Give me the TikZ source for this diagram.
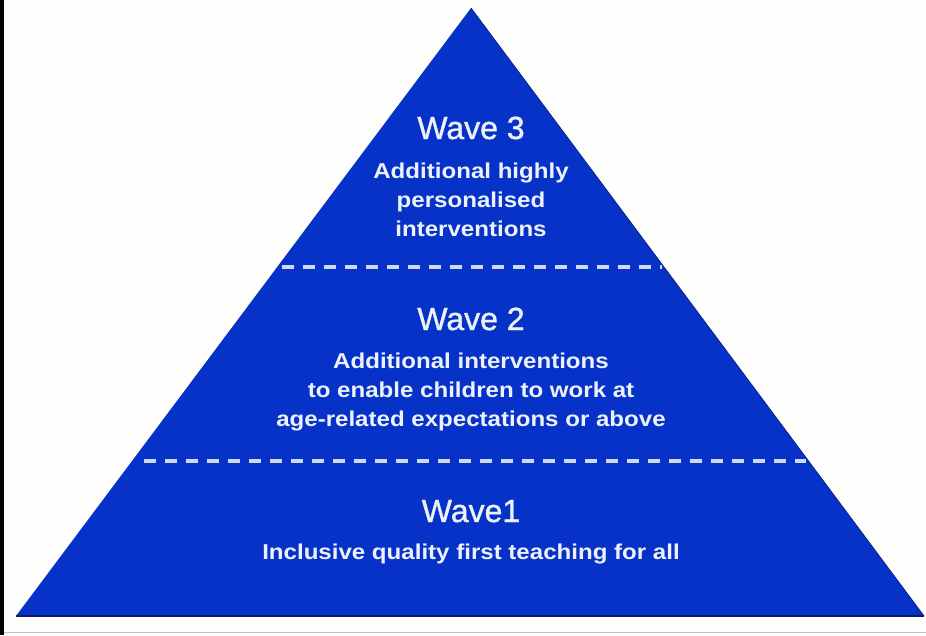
\documentclass[tikz,border=0pt]{standalone}
\usepackage{fontspec}
\setmainfont{Liberation Sans}
\newfontfamily\bodyfont{Liberation Sans}[FakeStretch=1.12]
\newfontfamily\headfont{Liberation Sans}[UprightFeatures={FakeBold=1.2}]
\definecolor{pyrblue}{RGB}{6,50,200}
\definecolor{pyrdark}{RGB}{10,25,110}
\definecolor{txtcol}{RGB}{236,241,250}
\definecolor{dashcol}{RGB}{205,218,242}
\definecolor{bgcol}{RGB}{254,254,252}
\begin{document}
\begin{tikzpicture}[x=1pt,y=-1pt,
  head/.style={text=txtcol, inner sep=0pt, anchor=base, font=\headfont\fontsize{32}{36}\selectfont},
  body/.style={text=txtcol, inner sep=0pt, anchor=base, font=\bodyfont\bfseries\fontsize{21.5}{26}\selectfont},
  divider/.style={draw=dashcol, line width=3.2pt, dash pattern=on 12pt off 9pt}]
\useasboundingbox (0,0) rectangle (926,635);
\fill[bgcol] (0,0) rectangle (926,635);
\fill[black] (0,0) rectangle (4,635);
\draw[black!25, line width=1pt] (4,632) -- (926,632);
% pyramid
\coordinate (apex) at (471,8);
\coordinate (bl) at (16,616);
\coordinate (br) at (924,616);
\fill[pyrblue] (apex) -- (br) -- (bl) -- cycle;
\draw[pyrdark, line width=1.6pt] (bl) -- (br);
\draw[pyrdark!70!pyrblue, line width=0.8pt] (apex) -- (br);
% dividers
\coordinate (d1l) at (282,267);
\coordinate (d1r) at (662,267);
\coordinate (d2l) at (144,461);
\coordinate (d2r) at (806,461);
\draw[divider] (d1l) -- (d1r);
\draw[divider] (d2l) -- (d2r);
% wave 3
\node[head] (w3) at (471,139) {Wave 3};
\node[body] (w3a) at (471,178) {Additional highly};
\node[body] (w3b) at (471,207) {personalised};
\node[body] (w3c) at (471,236) {interventions};
% wave 2
\node[head] (w2) at (471,330) {Wave 2};
\node[body] (w2a) at (471,368) {Additional interventions};
\node[body] (w2b) at (471,397) {to enable children to work at};
\node[body] (w2c) at (471,426) {age-related expectations or above};
% wave 1
\node[head] (w1) at (471,522) {Wave1};
\node[body] (w1a) at (471,559) {Inclusive quality first teaching for all};
\end{tikzpicture}
\end{document}
